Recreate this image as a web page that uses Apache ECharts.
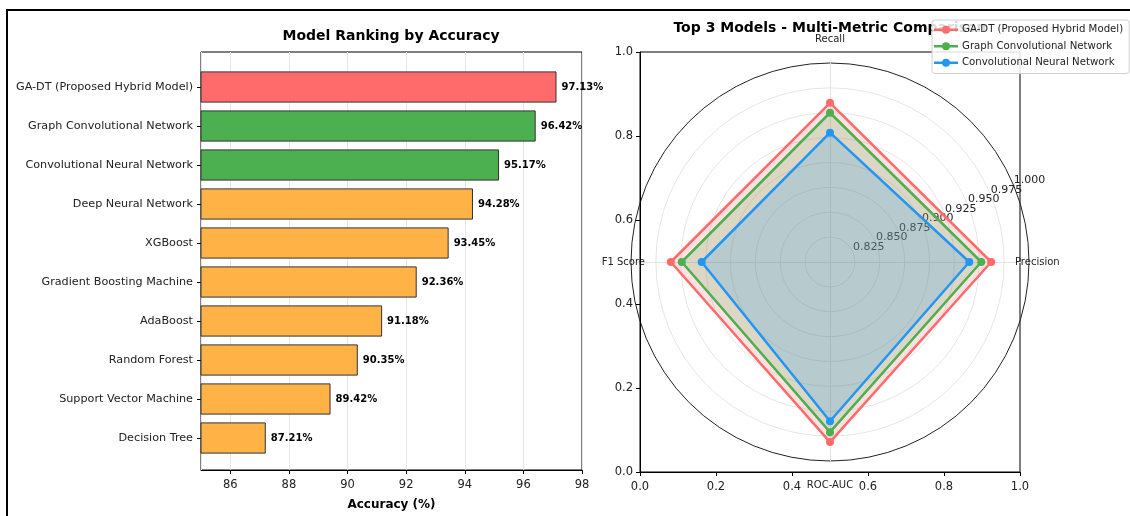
<!DOCTYPE html>
<html>
<head>
<meta charset="utf-8">
<script src="https://cdn.jsdelivr.net/npm/echarts@6/dist/echarts.min.js"></script>
<style>
  html, body { margin: 0; padding: 0; background: #fff; }
  #chart { width: 1130px; height: 516px; }
</style>
</head>
<body>
<div id="chart"></div>
<script>
// left panel: accuracy ranking
const models = [
  'GA-DT (Proposed Hybrid Model)',
  'Graph Convolutional Network',
  'Convolutional Neural Network',
  'Deep Neural Network',
  'XGBoost',
  'Gradient Boosting Machine',
  'AdaBoost',
  'Random Forest',
  'Support Vector Machine',
  'Decision Tree'
];
const accuracy = [97.13, 96.42, 95.17, 94.28, 93.45, 92.36, 91.18, 90.35, 89.42, 87.21];

// right panel: top 3 models radar
const metrics = ['Precision', 'Recall', 'F1 Score', 'ROC-AUC'];
const topModels = ['GA-DT (Proposed Hybrid Model)', 'Graph Convolutional Network', 'Convolutional Neural Network'];
const gaDtScores = [0.962, 0.960, 0.960, 0.981];
const gcnScores = [0.952, 0.950, 0.949, 0.971];
const cnnScores = [0.940, 0.930, 0.929, 0.960];

const FONT = 'DejaVu Sans';
const RED = '#ff6b6b', GREEN = '#4caf50', ORANGE = '#ffb347', BLUE = '#2196f3';
const R = 199; // radar radius in px

function barColor(i) {
  if (i === 0) return RED;
  if (i < 3) return GREEN;
  return ORANGE;
}

function radarSeries(name, values, color) {
  return {
    type: 'radar',
    name: name,
    symbol: 'circle',
    symbolSize: 8,
    lineStyle: { color: color, width: 2.5 },
    itemStyle: { color: color },
    areaStyle: { color: color, opacity: 0.2 },
    data: [{ name: name, value: values }]
  };
}

// ring colours: center + 7 light rings + black outer spine
const ringColors = ['#e6e6e6', '#e6e6e6', '#e6e6e6', '#e6e6e6', '#e6e6e6', '#e6e6e6', '#e6e6e6', '#e6e6e6', '#222'];

const chart = echarts.init(document.getElementById('chart'));

const option = {
  animation: false,
  textStyle: { fontFamily: FONT },
  graphic: [{
    type: 'rect', silent: true, z: -1,
    shape: { x: 7, y: 10, width: 1200, height: 600 },
    style: { fill: 'none', stroke: '#000', lineWidth: 2 }
  }],
  title: [
    {
      text: 'Model Ranking by Accuracy', left: 391, top: 29, textAlign: 'center', padding: 0,
      textStyle: { fontFamily: FONT, fontSize: 14, fontWeight: 'bold', color: '#000' }
    },
    {
      text: 'Top 3 Models - Multi-Metric Comparison', left: 830, top: 21, textAlign: 'center', padding: 0,
      textStyle: { fontFamily: FONT, fontSize: 14, fontWeight: 'bold', color: '#000' }
    }
  ],
  legend: {
    data: topModels,
    orient: 'vertical',
    left: 932, top: 20, z: 10,
    padding: [4, 6, 5, 2],
    itemWidth: 24, itemHeight: 8, itemGap: 5,
    icon: 'path://M0,3H24V5.5H0Z M8,4.25A4,4 0 1,1 16,4.25A4,4 0 1,1 8,4.25Z',
    backgroundColor: 'rgba(255,255,255,0.85)',
    borderColor: '#d0d0d0', borderWidth: 1, borderRadius: 3,
    textStyle: { fontFamily: FONT, fontSize: 10.2, color: '#222', padding: [0, 0, 0, -1], lineHeight: 11.5 }
  },
  grid: [
    { left: 201, top: 52, width: 381, height: 420, show: true, borderColor: '#000', borderWidth: 1 },
    { left: 201, top: 67.5, width: 381, height: 390 },
    { left: 640, top: 52, width: 380, height: 420, show: true, borderColor: '#000', borderWidth: 1 }
  ],
  xAxis: [
    {
      gridIndex: 0, type: 'value', min: 85, max: 98, splitNumber: 6, minInterval: 2, maxInterval: 2,
      axisLine: { show: true, lineStyle: { color: '#000' } },
      axisTick: { show: true, length: 4, lineStyle: { color: '#000' } },
      axisLabel: { showMinLabel: false, fontSize: 11.5, color: '#222', margin: 9 },
      splitLine: { show: true, lineStyle: { color: '#e6e6e6' } },
      name: 'Accuracy (%)', nameLocation: 'middle', nameGap: 29,
      nameTextStyle: { fontFamily: FONT, fontSize: 12, fontWeight: 'bold', color: '#000' }
    },
    { gridIndex: 1, type: 'value', min: 85, max: 98, show: false },
    {
      gridIndex: 2, type: 'value', min: 0, max: 1, interval: 0.2,
      axisLine: { show: true, lineStyle: { color: '#000' } },
      axisTick: { show: true, length: 4, lineStyle: { color: '#000' } },
      axisLabel: { fontSize: 11.5, color: '#222', margin: 9, formatter: v => v.toFixed(1) },
      splitLine: { show: false }
    }
  ],
  yAxis: [
    { gridIndex: 0, type: 'value', min: 0, max: 1, show: false },
    {
      gridIndex: 1, type: 'category', data: models, inverse: true,
      axisLine: { show: false },
      axisTick: { show: true, alignWithLabel: true, length: 4, lineStyle: { color: '#000' } },
      axisLabel: { fontSize: 11.2, color: '#222', margin: 8 }
    },
    {
      gridIndex: 2, type: 'value', min: 0, max: 1, interval: 0.2,
      axisLine: { show: true, lineStyle: { color: '#000' } },
      axisTick: { show: true, length: 4, lineStyle: { color: '#000' } },
      axisLabel: { fontSize: 11.5, color: '#222', margin: 7, formatter: v => v.toFixed(1) },
      splitLine: { show: false }
    }
  ],
  radar: {
    center: [830, 262], radius: R, startAngle: 0, shape: 'circle', splitNumber: 8,
    indicator: metrics.map(m => ({ name: m, min: 0.8, max: 1.0 })),
    axisNameGap: -14,
    axisName: {
      color: '#222', fontSize: 10, fontFamily: FONT,
      formatter: function (name) {
        if (name === 'Recall') return '{t|' + name + '}';
        if (name === 'ROC-AUC') return '{b|' + name + '}';
        return name;
      },
      rich: {
        t: { fontSize: 10, fontFamily: FONT, color: '#222', padding: [0, 0, 33, 0] },
        b: { fontSize: 10, fontFamily: FONT, color: '#222', padding: [33, 0, 0, 0] }
      }
    },
    splitLine: { lineStyle: { color: ringColors, width: 1 } },
    splitArea: { show: false },
    axisLine: { lineStyle: { color: '#e3e3e3' } },
    axisTick: { show: false },
    axisLabel: { show: false }
  },
  // radial tick labels along the 22.5 degree ray; extent padded by one
  // half step so the last label is not dropped by the overlap check
  polar: { center: [830, 262], radius: R * 0.2125 / 0.2 },
  angleAxis: { type: 'value', min: 0, max: 360, startAngle: 22.5, show: false },
  radiusAxis: {
    type: 'value', min: 0.8, max: 1.0125, interval: 0.025,
    axisLine: { show: false }, axisTick: { show: false }, splitLine: { show: false },
    axisLabel: {
      showMinLabel: false,
      fontSize: 11, color: '#222', margin: 0,
      align: 'left', verticalAlign: 'bottom', rotate: 0,
      formatter: v => (v > 1.0001 ? '' : v.toFixed(3))
    }
  },
  series: [
    {
      type: 'bar', xAxisIndex: 1, yAxisIndex: 1, barWidth: '80%',
      data: accuracy.map((v, i) => ({ value: v, itemStyle: { color: barColor(i) } })),
      itemStyle: { borderColor: '#333', borderWidth: 1 },
      label: {
        show: true, position: 'right', distance: 5,
        formatter: p => p.value.toFixed(2) + '%',
        fontFamily: FONT, fontSize: 10, fontWeight: 'bold', color: '#000'
      }
    },
    radarSeries(topModels[0], gaDtScores, RED),
    radarSeries(topModels[1], gcnScores, GREEN),
    radarSeries(topModels[2], cnnScores, BLUE)
  ]
};

chart.setOption(option);
</script>
</body>
</html>
